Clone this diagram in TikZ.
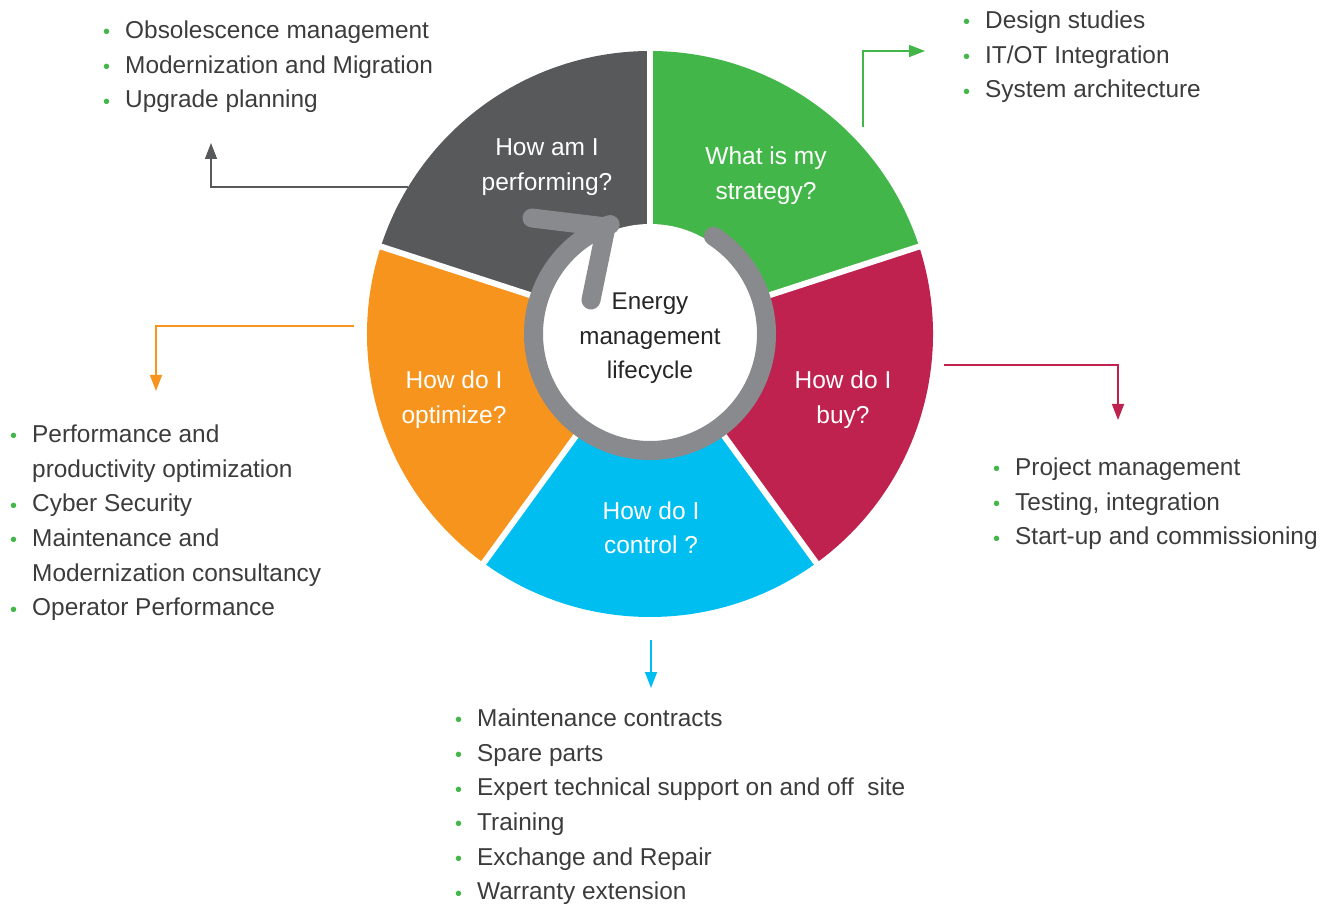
\documentclass[tikz,border=0pt]{standalone}
\usepackage{fontspec}
\setmainfont{Liberation Sans}
\usetikzlibrary{arrows.meta}
\definecolor{segDark}{HTML}{58595B}
\definecolor{segGreen}{HTML}{43B649}
\definecolor{segRed}{HTML}{C0224F}
\definecolor{segBlue}{HTML}{00BEF0}
\definecolor{segOrange}{HTML}{F7941D}
\definecolor{ringGray}{HTML}{898A8D}
\definecolor{txtGray}{HTML}{3C3C3C}
\definecolor{bulGreen}{HTML}{43B649}
\newcommand{\vs}{\rule[-5.5pt]{0pt}{27pt}}
\newcommand{\bul}{\makebox[22pt][l]{\raisebox{-0.5pt}{\color{bulGreen}\fontsize{20}{20}\selectfont •}}}
\newcommand{\cnt}{\hspace*{22pt}}
\tikzset{
  seglabel/.style={text=white, align=center, inner sep=0pt, font={\fontsize{24.5}{34.5}\selectfont}},
  listbox/.style={text=txtGray, align=left, inner sep=0pt, anchor=north west, font={\fontsize{24.4}{34.7}\selectfont}},
  conn/.style={line width=1.5pt, -{Triangle[length=16pt,width=12pt]}},
  gapline/.style={white, line width=6pt},
}
\begin{document}
\begin{tikzpicture}[x=1pt,y=1pt]
\path[use as bounding box] (0,0) rectangle (1332,903);
\coordinate (C) at (650,569);
% segments
\fill[segGreen]  (C) -- ++(18:283)   arc[start angle=18,  end angle=90,  radius=283] -- cycle;
\fill[segDark]   (C) -- ++(90:283)   arc[start angle=90,  end angle=162, radius=283] -- cycle;
\fill[segOrange] (C) -- ++(162:283)  arc[start angle=162, end angle=234, radius=283] -- cycle;
\fill[segBlue]   (C) -- ++(234:283)  arc[start angle=234, end angle=306, radius=283] -- cycle;
\fill[segRed]    (C) -- ++(-54:283)  arc[start angle=-54, end angle=18,  radius=283] -- cycle;
\foreach \a in {90,18,-54,-126,162} \draw[gapline] (C) -- ++(\a:290);
% centre
\fill[white] (C) circle[radius=110];
\draw[ringGray, line width=19pt, line cap=round] (C) ++(57:116.5) arc[start angle=57, end angle=-250, radius=116.5];
\draw[ringGray, line width=19pt, line cap=round, line join=round] (532,685) -- (606,676) -- (591,603);
\node[align=center, inner sep=0pt, text=black!85, font={\fontsize{24.2}{34.5}\selectfont}] (centre) at (650,566.5) {\vs Energy\\\vs management\\\vs lifecycle};
% segment labels
\node[seglabel] (perf) at (547,738) {\vs How am I\\\vs performing?};
\node[seglabel] (strat) at (766,729) {\vs What is my\\\vs strategy?};
\node[seglabel] (buy) at (843,505) {\vs How do I\\\vs buy?};
\node[seglabel] (ctrl) at (651,374.5) {\vs How do I\\\vs control ?};
\node[seglabel] (opt) at (454,505) {\vs How do I\\\vs optimize?};
% lists
\node[listbox] (lperf) at (103,882.5) {\bul Obsolescence management\\\bul Modernization and Migration\\\bul Upgrade planning};
\node[listbox] (lstrat) at (963,892.5) {\bul Design studies\\\bul IT/OT Integration\\\bul System architecture};
\node[listbox] (lopt) at (10,478.5) {\bul Performance and\\\cnt productivity optimization\\\bul Cyber Security\\\bul Maintenance and\\\cnt Modernization consultancy\\\bul Operator Performance};
\node[listbox] (lbuy) at (993,445.5) {\bul Project management\\\bul Testing, integration\\\bul Start-up and commissioning};
\node[listbox] (lctrl) at (455,194.5) {\bul Maintenance contracts\\\bul Spare parts\\\bul Expert technical support on and off\ \ site\\\bul Training\\\bul Exchange and Repair\\\bul Warranty extension};
% connectors
\coordinate (perfOut) at (408,716);
\coordinate (perfTip) at (211,760);
\coordinate (stratOut) at (863,776);
\coordinate (stratTip) at (925,852);
\coordinate (optOut) at (354,577);
\coordinate (optTip) at (156,512);
\coordinate (buyOut) at (944,538);
\coordinate (buyTip) at (1118,483);
\coordinate (ctrlOut) at (651,263);
\coordinate (ctrlTip) at (651,215);
\draw[conn, segDark] (perfOut) -| (perfTip);
\draw[conn, segGreen] (stratOut) |- (stratTip);
\draw[conn, segOrange] (optOut) -| (optTip);
\draw[conn, segRed] (buyOut) -| (buyTip);
\draw[conn, segBlue] (ctrlOut) -- (ctrlTip);
\end{tikzpicture}
\end{document}
